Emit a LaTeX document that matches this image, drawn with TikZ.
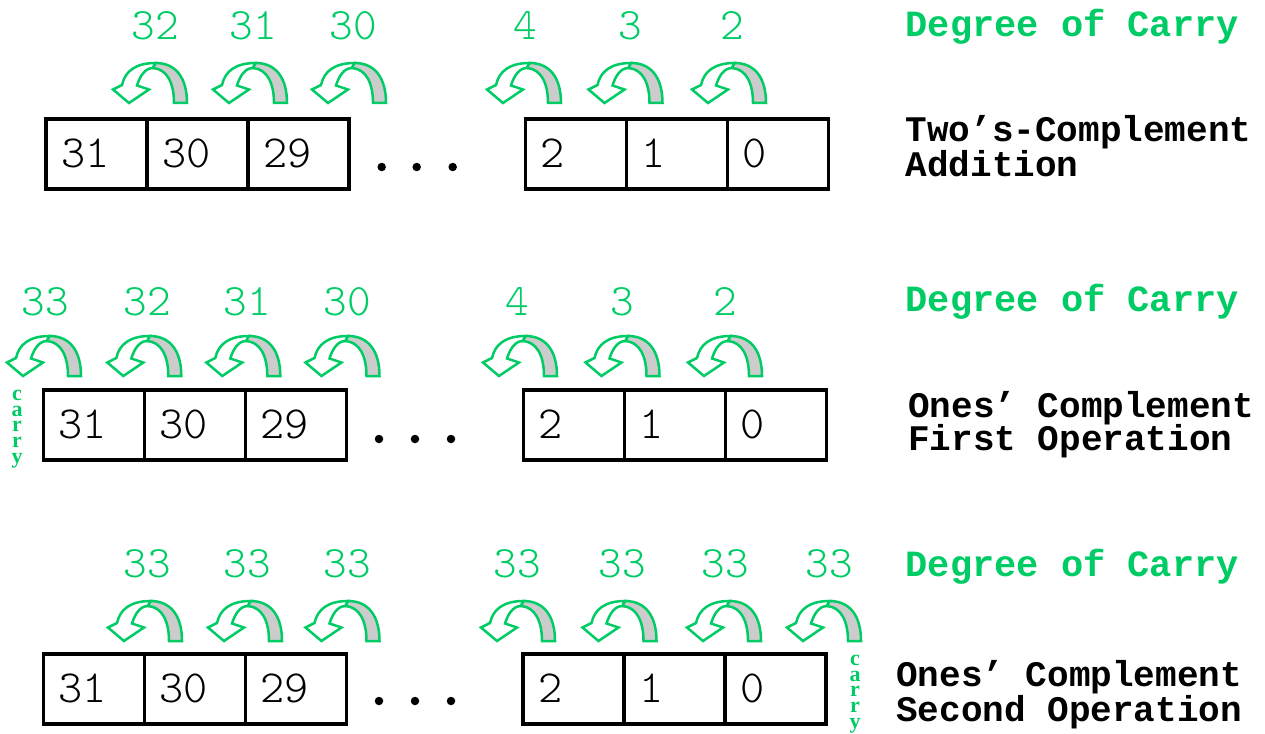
\documentclass[tikz,border=0pt]{standalone}
\usepackage{fontspec}
\setmonofont{Liberation Mono}
\newfontfamily\thinmono{Latin Modern Mono Light}
\newfontfamily\carryfont{Liberation Serif}
\usetikzlibrary{positioning}
\definecolor{cgreen}{RGB}{0,204,102}
\definecolor{cgray}{RGB}{204,204,204}
\tikzset{
  cell/.style={draw=black, line width=3.8pt, minimum width=101pt, minimum height=70pt,
    text width=71pt, inner xsep=15pt, inner ysep=0pt, outer sep=0pt, align=left,
    text height=27pt, text depth=0pt, font=\thinmono\fontsize{46}{46}\selectfont},
  deg/.style={anchor=base, text=cgreen, inner sep=0pt, font=\thinmono\fontsize{45}{45}\selectfont},
  title/.style={anchor=base west, inner sep=0pt, font=\ttfamily\bfseries\fontsize{36}{36}\selectfont},
  dgc/.style={anchor=base west, inner sep=0pt, text=cgreen, font=\ttfamily\bfseries\fontsize{37}{37}\selectfont},
  carryword/.style={text=cgreen, align=center, inner sep=0pt, font=\carryfont\bfseries\fontsize{22}{15.8}\selectfont},
  bitdot/.style={circle, fill=black, inner sep=0pt, minimum size=8.5pt},
  carryarrow/.pic={
    \draw[draw=cgreen, line width=2.5pt, fill=white, line join=miter]
      (5.5,-40) .. controls (-14,-40) and (-25,-32) .. (-28,-18) -- (-37,-13.5) -- (-21,0)
      -- (-1,-13.5) -- (-13,-17.5) .. controls (-10,-27) and (-5,-35) .. (3,-35) -- cycle;
    \draw[draw=cgreen, line width=2.5pt, fill=cgray]
      (5.5,-40) .. controls (26,-40) and (37,-25) .. (37,0) -- (24,0)
      .. controls (24,-20) and (17,-34) .. (3,-35) -- cycle;
  }
}
\begin{document}
\begin{tikzpicture}[x=1pt, y=-1pt]
\useasboundingbox[fill=white] (0,0) rectangle (1265,733);

% ---------- Row 1 ----------
\node[cell] (r1a) at (96.5,154) {31};
\node[cell, right=0pt of r1a] (r1b) {30};
\node[cell, right=0pt of r1b] (r1c) {29};
\node[cell] (r1d) at (576,154) {2};
\node[cell, right=0pt of r1d] (r1e) {1};
\node[cell, right=0pt of r1e] (r1f) {0};
\node[bitdot] (r1p) at (381.7,167) {};
\node[bitdot] (r1q) at (416.7,167) {};
\node[bitdot] (r1r) at (452.7,167) {};
\foreach \x in {150,250,349,524,625.5,729} \pic at (\x,103) {carryarrow};
\node[deg] (n1a) at (155,39.3) {32};
\node[deg] (n1b) at (253,39.3) {31};
\node[deg] (n1c) at (353,39.3) {30};
\node[deg] (n1d) at (525,39.3) {4};
\node[deg] (n1e) at (630,39.3) {3};
\node[deg] (n1f) at (732,39.3) {2};
\node[dgc] (d1) at (905.5,36.7) {Degree of Carry};
\node[title] (t1a) at (905.5,141.7) {Two’s-Complement};
\node[title] (t1b) at (905.5,176.7) {Addition};

% ---------- Row 2 ----------
\node[cell] (r2a) at (94,425) {31};
\node[cell, right=0pt of r2a] (r2b) {30};
\node[cell, right=0pt of r2b] (r2c) {29};
\node[cell] (r2d) at (574,425) {2};
\node[cell, right=0pt of r2d] (r2e) {1};
\node[cell, right=0pt of r2e] (r2f) {0};
\node[bitdot] (r2p) at (379,439) {};
\node[bitdot] (r2q) at (415,439) {};
\node[bitdot] (r2r) at (451,439) {};
\foreach \x in {44,144.3,243.3,342.5,520,622.5,725} \pic at (\x,376) {carryarrow};
\node[deg] (n2a) at (45,315) {33};
\node[deg] (n2b) at (147,315) {32};
\node[deg] (n2c) at (247,315) {31};
\node[deg] (n2d) at (347,315) {30};
\node[deg] (n2e) at (517,315) {4};
\node[deg] (n2f) at (622,315) {3};
\node[deg] (n2g) at (725,315) {2};
\node[carryword] (c2) at (17,429) {c\\a\\r\\r\\y};
\node[dgc] (d2) at (905.5,311.7) {Degree of Carry};
\node[title] (t2a) at (908,417.3) {Ones’ Complement};
\node[title] (t2b) at (908,450.7) {First Operation};

% ---------- Row 3 ----------
\node[cell] (r3a) at (94,689) {31};
\node[cell, right=0pt of r3a] (r3b) {30};
\node[cell, right=0pt of r3b] (r3c) {29};
\node[cell] (r3d) at (573.5,689) {2};
\node[cell, right=0pt of r3d] (r3e) {1};
\node[cell, right=0pt of r3e] (r3f) {0};
\node[bitdot] (r3p) at (379,701) {};
\node[bitdot] (r3q) at (415,701) {};
\node[bitdot] (r3r) at (451,701) {};
\foreach \x in {145,245,342.5,518,619.5,724,824} \pic at (\x,641) {carryarrow};
\node[deg] (n3a) at (147,577) {33};
\node[deg] (n3b) at (247,577) {33};
\node[deg] (n3c) at (347,577) {33};
\node[deg] (n3d) at (517,577) {33};
\node[deg] (n3e) at (622,577) {33};
\node[deg] (n3f) at (725,577) {33};
\node[deg] (n3g) at (829,577) {33};
\node[carryword] (c3) at (855,694) {c\\a\\r\\r\\y};
\node[dgc] (d3) at (905.5,576.7) {Degree of Carry};
\node[title] (t3a) at (896,686.7) {Ones’ Complement};
\node[title] (t3b) at (896,721.7) {Second Operation};
\end{tikzpicture}
\end{document}
